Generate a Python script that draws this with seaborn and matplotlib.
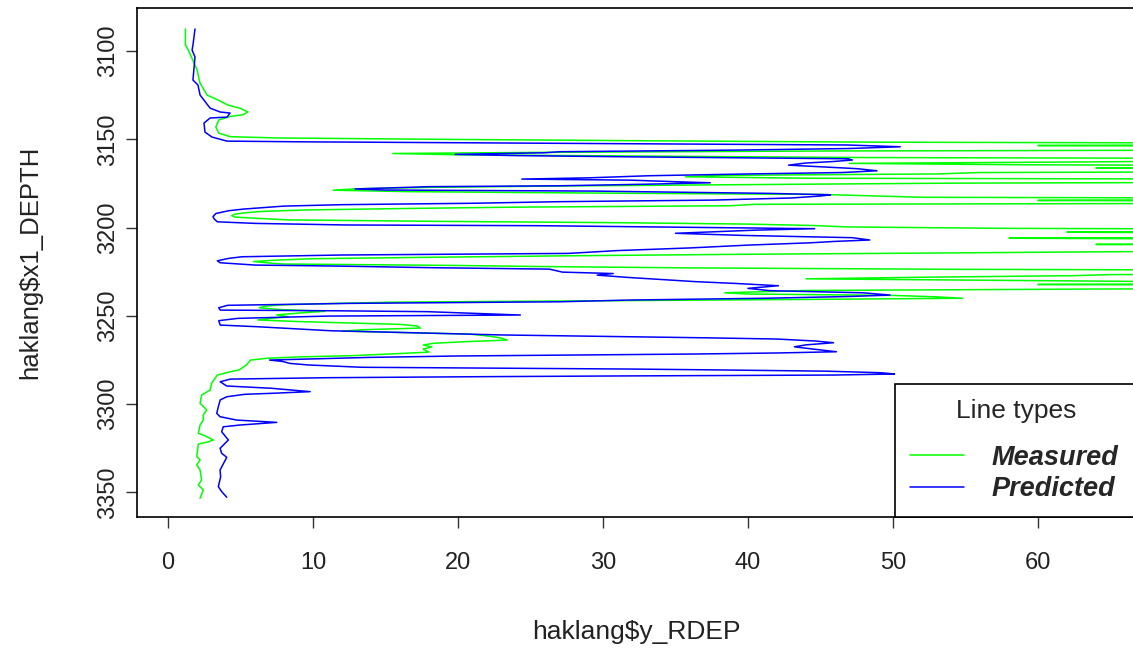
import numpy as np
import pandas as pd
import matplotlib
matplotlib.use('Agg')
import matplotlib.pyplot as plt
import seaborn as sns
from matplotlib.lines import Line2D


# Measured resistivity log (green)
meas_depth = [
    3087.5, 3096.5, 3099.5, 3110.5, 3118.0, 3125.0, 3127.5, 3130.5, 3132.5, 3134.5,
    3136.0, 3137.0, 3139.0, 3143.0, 3146.5, 3148.5, 3149.2, 3150.0, 3150.8, 3151.6,
    3152.4, 3153.5, 3154.5, 3155.8, 3156.6, 3157.3, 3158.0, 3158.7, 3159.5, 3160.3,
    3161.1, 3162.8, 3163.6, 3164.4, 3165.2, 3166.2, 3167.0, 3168.0, 3168.8, 3169.6,
    3170.4, 3171.2, 3172.0, 3172.8, 3174.0, 3174.8, 3175.6, 3176.4, 3177.2, 3178.0,
    3178.8, 3179.6, 3180.4, 3181.2, 3182.0, 3182.8, 3183.6, 3184.6, 3185.3, 3186.0,
    3186.8, 3187.6, 3188.4, 3189.2, 3190.0, 3190.8, 3191.6, 3192.4, 3193.2, 3194.0,
    3194.8, 3195.6, 3196.4, 3197.2, 3198.0, 3198.8, 3199.6, 3200.4, 3201.2, 3202.6,
    3203.6, 3205.0, 3206.0, 3207.0, 3209.0, 3209.5, 3210.5, 3212.0, 3213.0, 3213.6,
    3214.4, 3215.2, 3216.0, 3216.8, 3217.6, 3218.4, 3219.2, 3220.0, 3220.6, 3221.4,
    3222.0, 3222.8, 3223.6, 3224.4, 3226.0, 3226.6, 3227.2, 3228.0, 3229.0, 3229.6,
    3230.4, 3231.2, 3232.2, 3233.0, 3234.0, 3234.8, 3235.6, 3236.9, 3237.6, 3238.4,
    3239.2, 3240.0, 3240.6, 3241.4, 3242.2, 3243.0, 3243.8, 3244.6, 3245.4, 3246.4,
    3247.4, 3248.4, 3249.4, 3250.5, 3251.4, 3252.3, 3253.2, 3254.0, 3254.8, 3255.7,
    3256.9, 3257.8, 3258.6, 3259.4, 3260.3, 3261.5, 3262.6, 3263.7, 3264.6, 3265.5,
    3266.5, 3267.6, 3268.8, 3270.5, 3271.5, 3272.5, 3273.2, 3274.0, 3275.0, 3277.8,
    3280.6, 3281.6, 3283.5, 3288.2, 3292.0, 3294.8, 3299.5, 3303.3, 3306.1, 3309.0,
    3311.8, 3316.5, 3317.9, 3320.3, 3321.3, 3322.6, 3329.7, 3331.6, 3334.4, 3337.3,
    3342.9, 3345.8, 3348.6, 3353.3,
]
meas_rdep = [
    1.2, 1.2, 1.4, 2.0, 2.2, 2.7, 3.4, 4.1, 5.0, 5.5,
    5.2, 4.3, 3.5, 3.3, 3.5, 4.3, 7.5, 19.0, 33.0, 49.0,
    90, 60, 95, 90, 45, 27, 15.5, 19.7, 33, 48,
    90, 63, 47, 59, 90, 64, 90, 90, 56, 53,
    38, 35.7, 44, 90, 90, 54.3, 41, 27, 18, 13,
    11.4, 16.5, 29, 45, 48.5, 52, 90, 60, 90, 90,
    40.5, 38.8, 24, 16, 9.5, 6.5, 5.3, 4.6, 4.4, 4.6,
    6.3, 8.3, 18, 31, 40, 44.5, 46.8, 57.6, 90, 62,
    90, 90, 58, 90, 80, 64, 90, 90, 90, 66,
    52.6, 38, 27, 18, 10, 7.5, 5.9, 6.9, 7.9, 19.6,
    25.3, 36, 54, 90, 90, 65, 62.5, 53, 44, 53,
    65, 90, 60, 90, 90, 63.6, 44, 38.4, 40, 50,
    53, 54.8, 45, 30, 15.8, 11, 7.7, 6.6, 6.3, 7.7,
    10.8, 9.0, 7.5, 8.3, 7.0, 6.2, 9.0, 12.5, 16.0, 17.2,
    17.4, 13.5, 12.0, 16, 20.8, 22.2, 23.0, 23.4, 20.5, 18.3,
    17.6, 18.2, 17.6, 18.0, 15.5, 12.7, 9.1, 6.8, 5.7, 5.4,
    4.9, 4.3, 3.4, 3.0, 2.9, 2.32, 2.21, 2.67, 2.43, 2.43,
    2.21, 2.09, 2.55, 3.12, 2.78, 2.09, 1.98, 2.21, 1.98, 2.21,
    2.32, 2.09, 2.43, 2.21,
]

# Predicted resistivity log (blue)
pred_depth = [
    3087.5, 3096.6, 3099.4, 3103.4, 3116.4, 3119.3, 3124.9, 3132.3, 3134.5, 3135.1,
    3137.4, 3137.9, 3140.8, 3145.9, 3148.7, 3151.0, 3151.4, 3152.3, 3153.2, 3154.2,
    3155.2, 3156.1, 3157.0, 3157.6, 3158.5, 3159.2, 3159.9, 3160.5, 3161.0, 3161.7,
    3162.6, 3163.4, 3164.6, 3165.6, 3166.6, 3167.8, 3168.8, 3169.6, 3170.6, 3171.8,
    3172.5, 3173.1, 3174.0, 3174.6, 3175.4, 3176.3, 3176.8, 3178.1, 3178.7, 3179.3,
    3179.9, 3180.6, 3181.4, 3182.1, 3183.2, 3184.4, 3185.3, 3186.2, 3187.0, 3187.8,
    3188.6, 3189.5, 3190.4, 3192.0, 3193.8, 3195.2, 3196.7, 3197.6, 3198.5, 3198.9,
    3199.9, 3200.6, 3201.4, 3203.2, 3204.4, 3205.7, 3207.0, 3207.8, 3208.6, 3209.9,
    3211.5, 3213.0, 3214.6, 3215.5, 3216.5, 3217.4, 3218.8, 3219.9, 3221.2, 3221.8,
    3222.7, 3223.5, 3225.2, 3226.0, 3226.9, 3228.2, 3229.3, 3230.6, 3231.6, 3232.9,
    3234.4, 3235.7, 3236.9, 3238.2, 3239.0, 3240.0, 3241.0, 3242.0, 3242.9, 3244.0,
    3245.4, 3246.7, 3247.1, 3247.6, 3249.5, 3250.1, 3251.4, 3252.7, 3255.2, 3256.1,
    3258.4, 3259.2, 3260.8, 3261.8, 3262.4, 3263.1, 3264.2, 3265.2, 3266.4, 3267.5,
    3268.8, 3270.3, 3271.0, 3271.6, 3272.2, 3272.7, 3273.5, 3275.0, 3275.8, 3276.9,
    3277.8, 3279.1, 3279.6, 3280.1, 3280.6, 3281.3, 3282.2, 3282.9, 3283.5, 3284.0,
    3284.4, 3285.0, 3285.8, 3287.3, 3289.7, 3291.0, 3292.4, 3292.9, 3293.8, 3294.4,
    3295.8, 3297.6, 3301.4, 3305.2, 3307.1, 3309.0, 3310.3, 3311.8, 3312.8, 3315.6,
    3320.3, 3325.0, 3327.8, 3330.1, 3337.3, 3341.1, 3346.7, 3349.5, 3352.7,
]
pred_rdep = [
    1.86, 1.72, 1.66, 1.86, 1.72, 2.07, 2.21, 2.90, 3.59, 4.28,
    4.07, 2.90, 2.48, 2.55, 3.03, 4.07, 9.3, 27.5, 46.9, 50.5,
    46.9, 39.0, 27.0, 26.0, 19.8, 24.0, 31.9, 39.7, 46.9, 47.2,
    45.8, 44.0, 42.8, 45.2, 47.5, 48.9, 46.5, 40.0, 33.2, 29.0,
    24.4, 31.9, 35.0, 37.4, 33.0, 27.0, 18.0, 12.9, 15.0, 29.3,
    35.0, 41.5, 45.7, 45.0, 43.0, 37.6, 27.0, 21.0, 12.0, 8.0,
    6.7, 5.2, 4.2, 3.3, 3.1, 3.2, 3.4, 6.0, 12.3, 25.6,
    36.8, 44.6, 40.6, 35.0, 39.6, 47.2, 48.4, 46.0, 44.3, 40.0,
    36.0, 31.0, 27.6, 12.0, 5.1, 4.2, 3.4, 3.6, 6.0, 11.9,
    18.3, 26.3, 27.2, 30.7, 29.6, 31.7, 33.8, 36.4, 39.1, 42.1,
    40.0, 41.5, 47.9, 49.8, 47.0, 41.2, 31.9, 27.0, 12.6, 4.1,
    3.5, 3.6, 11.6, 17.9, 24.3, 11.0, 4.8, 3.5, 3.6, 6.1,
    11.2, 15.2, 23.1, 31.9, 37.0, 42.0, 44.6, 45.9, 44.0, 43.2,
    44.5, 46.1, 42.0, 36.2, 27.0, 20.0, 13.9, 7.0, 7.9, 8.4,
    9.7, 13.4, 23.1, 31.9, 38.0, 45.4, 49.2, 50.1, 45.9, 31.4,
    22.0, 11.0, 4.3, 3.6, 4.05, 7.15, 9.1, 9.8, 7.3, 5.3,
    4.05, 3.6, 3.47, 3.36, 3.59, 4.74, 7.5, 4.97, 3.81, 3.7,
    4.16, 3.59, 3.7, 4.05, 3.59, 3.63, 3.47, 3.7, 4.05,
]

series_names = ['Measured', 'Predicted']
series_colors = ['#00ff00', '#0000ff']
x_ticks = [0, 10, 20, 30, 40, 50, 60]
y_ticks = [3100, 3150, 3200, 3250, 3300, 3350]

df = pd.concat([
    pd.DataFrame({'rdep': meas_rdep, 'depth': meas_depth, 'type': series_names[0]}),
    pd.DataFrame({'rdep': pred_rdep, 'depth': pred_depth, 'type': series_names[1]}),
], ignore_index=True)

sns.set_style('white')
plt.rcParams['font.family'] = ['Liberation Sans', 'DejaVu Sans']

W, H = 1133, 655
fig = plt.figure(figsize=(W / 100, H / 100), dpi=100)
ax_l, ax_r, ax_t, ax_b = 136.7, 1137, 8, 517
ax = fig.add_axes([ax_l / W, 1 - ax_b / H, (ax_r - ax_l) / W, (ax_b - ax_t) / H])

sns.lineplot(
    data=df,
    x='rdep',
    y='depth',
    hue='type',
    palette=dict(zip(series_names, series_colors)),
    sort=False,
    estimator=None,
    legend=False,
    linewidth=1.1,
    ax=ax
)

ax.set_xlim(-2.16, 66.83)
ax.set_ylim(3363.9, 3075.6)
ax.set_xticks(x_ticks)
ax.set_yticks(y_ticks)

for s in ax.spines.values():
    s.set_visible(True)
    s.set_color('black')
    s.set_linewidth(1.2)

ax.tick_params(axis='both', direction='out', length=8, width=1, color='#333333',
               labelcolor='#222222', bottom=True, left=True)
ax.tick_params(axis='x', labelsize=17, pad=17)
ax.tick_params(axis='y', labelsize=17, pad=5, labelrotation=90)
for lbl in ax.get_yticklabels():
    lbl.set_va('center')

ax.set_xlabel(r'haklang\$y_RDEP', fontsize=19, color='#222222', va='center')
ax.set_ylabel(r'haklang\$x1_DEPTH', fontsize=18.5, color='#222222', va='center')
ax.xaxis.set_label_coords(0.5, (ax_b - 632) / (ax_b - ax_t))
ax.yaxis.set_label_coords((30 - ax_l) / (ax_r - ax_l), 0.5)

handles = [Line2D([], [], color=c, linewidth=1.1) for c in series_colors]
x0 = (895 - ax_l) / (ax_r - ax_l)
leg = ax.legend(
    handles, series_names,
    title='Line types\n',
    loc='lower left',
    bbox_to_anchor=(x0, 0, 1 - x0, 0.3),
    mode='expand',
    borderaxespad=0,
    borderpad=0.55,
    handlelength=2.0,
    handletextpad=1.0,
    labelspacing=0.2,
    prop={'weight': 'bold', 'style': 'italic', 'size': 19.5},
    title_fontproperties={'size': 19},
    frameon=True,
    fancybox=False,
    framealpha=1,
    edgecolor='black'
)
leg.get_title().set_linespacing(0.6)
leg.get_frame().set_linewidth(1.2)

plt.savefig('out.png', dpi=100)
